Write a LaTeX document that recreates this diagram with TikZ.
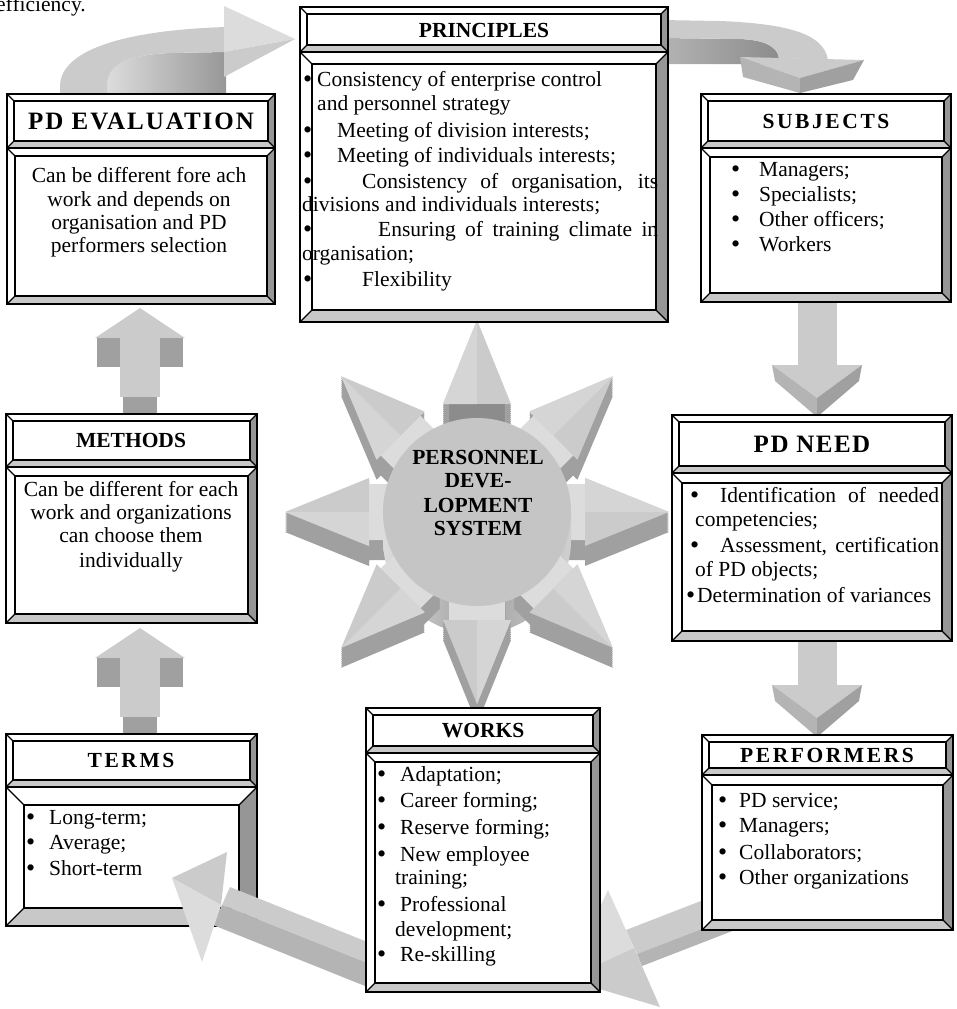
\documentclass[tikz,border=0pt]{standalone}
\usepackage{fontspec}
\setmainfont{Liberation Serif}
\newfontfamily\hdwide[LetterSpace=12]{Liberation Serif}
\newfontfamily\hdmid[LetterSpace=8]{Liberation Serif}
\newfontfamily\hdnarrow[LetterSpace=6]{Liberation Serif}
\newcommand\bodyfont{\fontsize{21.5}{24}\selectfont}
\newcommand\bulletbox[1]{\makebox[#1][l]{\raisebox{-1.2pt}{\fontsize{26}{26}\selectfont •}}}

\definecolor{shadeA}{RGB}{203,203,203}
\definecolor{shadeB}{RGB}{180,180,180}
\definecolor{shadeC}{RGB}{160,160,160}
\definecolor{shadeD}{RGB}{140,140,140}
\definecolor{shadeE}{RGB}{220,220,220}
\definecolor{bandR}{RGB}{150,150,150}
\definecolor{bandB}{RGB}{200,200,200}

% one bevelled frame: x1, y1, x2, y2, band width
\newcommand\bevelpart[5]{%
  \fill[white] (#1,#2) rectangle (#3,#4);
  \fill[bandR] (#3,#2) -- (#3,#4) -- ({#3-#5},{#4-#5}) -- ({#3-#5},{#2+#5}) -- cycle;
  \fill[bandB] (#1,#4) -- (#3,#4) -- ({#3-#5},{#4-#5}) -- ({#1+#5},{#4-#5}) -- cycle;
  \draw[frame] ({#1+#5},{#2+#5}) rectangle ({#3-#5},{#4-#5});
  \draw[frame] (#1,#2) -- ({#1+#5},{#2+#5}) (#3,#2) -- ({#3-#5},{#2+#5})
               (#1,#4) -- ({#1+#5},{#4-#5}) (#3,#4) -- ({#3-#5},{#4-#5});
  \draw[frame] (#1,#2) rectangle (#3,#4);}

% a titled panel: name, x1, y1, x2, y2, title bottom, body band
\newcommand\panel[7]{%
  \bevelpart{#2}{#3}{#4}{#6}{7}
  \bevelpart{#2}{#6}{#4}{#5}{#7}
  \coordinate (#1-nw) at (#2,#3);
  \coordinate (#1-se) at (#4,#5);}

% outline of one ray of the star, in its own frame
\newcommand\raypath{(80,-28) -- (108,-28) -- (108,-34) -- (192,0) -- (108,34) -- (108,28) -- (80,28) -- cycle}

% one ray of the star: angle, colour of its stub
\newcommand\starray[2]{%
  \foreach \k in {20,18,...,2}{
    \fill[shadeC,shift={(477,512+\k)},rotate=#1] \raypath;}
  \begin{scope}[shift={(477,512)},rotate=#1]
    \fill[shadeA] \raypath;
    \fill[#2] (80,-28) rectangle (108,28);
    \fill[shadeE!60!shadeA] (108,-34) -- (192,0) -- (108,0) -- cycle;
  \end{scope}}

\begin{document}
\begin{tikzpicture}[x=1pt,y=-1pt,
  frame/.style={draw=black,line width=1.3pt},
  txt/.style={inner sep=0pt,font=\bodyfont},
  line/.style={txt,anchor=mid west},
  cline/.style={txt,anchor=mid},
  hd/.style={inner sep=0pt,anchor=center,font=\bodyfont\bfseries},
  hdw/.style={hd,font=\hdwide\bfseries\bodyfont},
]
\useasboundingbox (0,0) rectangle (956,1009);

\node[txt,anchor=base west] (eff) at (-4,11) {efficiency.};

% ---- curved arrow: evaluation -> principles
\shade[left color=shadeE,right color=shadeD!90]
  (107,100) -- (107,85) .. controls (108,65) and (125,55) .. (170,53) -- (226,52) -- (226,100) -- cycle;
\fill[shadeA]
  (60,100) -- (60,85) .. controls (62,48) and (130,30) .. (226,27) -- (226,52) -- (170,53)
  .. controls (125,55) and (108,65) .. (107,85) -- (107,100) -- cycle;
\coordinate (aTip) at (295,39);
\fill[shadeE] (224,6) -- (aTip) -- (224,52) -- cycle;
\fill[shadeA] (224,52) -- (aTip) -- (224,77) -- cycle;

% ---- curved arrow: principles -> subjects
\shade[left color=shadeB,right color=shadeD]
  (660,38) -- (740,39) .. controls (764,40) and (777,46) .. (779,58) -- (779,64) -- (660,64) -- cycle;
\fill[shadeA]
  (660,20) -- (720,21) .. controls (795,24) and (824,36) .. (828,60) -- (779,58)
  .. controls (777,46) and (764,40) .. (740,39) -- (660,38) -- cycle;
\coordinate (bTip) at (800,93);
\fill[shadeA] (740,57) -- (864,60) -- (800,78) -- cycle;
\fill[shadeB] (740,57) -- (743,77) -- (bTip) -- (800,78) -- cycle;
\fill[shadeC] (800,78) -- (864,60) -- (853,80) -- (bTip) -- cycle;

% ---- straight down arrows in the right column
\foreach \ys/\ye in {302/365,641/685}{
  \fill[shadeA] (798,\ys) rectangle (837,\ye);
  \fill[shadeA] (772,\ye) -- (862,\ye) -- (817,\ye+33) -- cycle;
  \fill[shadeB] (772,\ye) -- (775,\ye+16) -- (817,\ye+52) -- (817,\ye+33) -- cycle;
  \fill[shadeC] (817,\ye+33) -- (862,\ye) -- (859,\ye+16) -- (817,\ye+52) -- cycle;
}

% ---- straight up arrows in the left column
\foreach \ty in {308,628}{
  \fill[shadeA] (95,\ty+30) -- (140,\ty) -- (185,\ty+30) -- cycle;
  \fill[shadeC] (97,\ty+30) rectangle (120,\ty+59);
  \fill[shadeC] (160,\ty+30) rectangle (183,\ty+59);
  \fill[shadeA] (120,\ty+30) rectangle (160,\ty+89);
  \fill[shadeC] (123,\ty+89) rectangle (157,\ty+112);
}

% ---- diagonal arrow: performers -> works
\fill[shadeA] (737,887) -- (626,930) -- (637,954) -- (748,911) -- cycle;
\fill[shadeB] (748,911) -- (637,954) -- (642,966) -- (753,923) -- cycle;
\coordinate (gTip) at (566,979);
\fill[shadeE] (608,890) -- (gTip) -- (634,948) -- cycle;
\fill[shadeA] (634,948) -- (gTip) -- (660,1007) -- cycle;

% ---- star with cylinder in the centre
\starray{90}{shadeD}
\starray{45}{shadeE}
\starray{135}{shadeE}
\starray{0}{shadeE}
\starray{180}{shadeE}
\shade[left color=shadeE,right color=shadeE!70!shadeB,middle color=shadeC]
  (383,512) rectangle (571,540);
\shade[left color=shadeE,right color=shadeE!70!shadeB,middle color=shadeC]
  (477,540) circle[radius=94pt];
\starray{315}{shadeE}
\starray{270}{shadeE}
\starray{225}{shadeE}
\fill[shadeA!97!black] (477,512) circle[radius=94pt];
\node[hd] (pds1) at (478,457) {PERSONNEL};
\node[hd] (pds2) at (478,481) {DEVE-};
\node[hd] (pds3) at (478,505) {LOPMENT};
\node[hd] (pds4) at (478,528) {SYSTEM};

% ---- panels
\panel{eval}{7}{94}{275}{304}{148}{8}
\panel{prin}{300}{7}{668}{322}{52}{12}
\panel{subj}{701}{94}{951}{302}{148}{9}
\panel{need}{672}{415}{952}{641}{473}{10}
\panel{meth}{6}{414}{257}{623}{467}{9}
\panel{perf}{702}{735}{953}{930}{775}{10}
\panel{term}{6}{734}{257}{926}{787}{18}

% ---- diagonal arrow: works -> terms (in front of the terms panel)
\fill[shadeA] (230,887) -- (380,947) -- (380,968) -- (222,905) -- cycle;
\fill[shadeB] (222,905) -- (380,968) -- (380,992) -- (213,925) -- cycle;
\coordinate (hTip) at (172,878);
\fill[shadeA] (hTip) -- (227,852) -- (221,905) -- cycle;
\fill[shadeE] (hTip) -- (221,905) -- (202,962) -- cycle;

\panel{work}{366}{708}{600}{992}{753}{9}

% ---- texts
\node[hd,font=\hdmid\bfseries\fontsize{25}{28}\selectfont] (evalH) at (141,121) {PD EVALUATION};
\node[cline] (eval1) at (139,180) {Can be different fore ach};
\node[cline] (eval2) at (139,204) {work and depends on};
\node[cline] (eval3) at (139,227) {organisation and PD};
\node[cline] (eval4) at (139,250) {performers selection};

\node[hd] (prinH) at (484,30) {PRINCIPLES};
\node[line] (prin1) at (303,84) {\bulletbox{14pt}Consistency of enterprise control};
\node[line] (prin2) at (317,108) {and personnel strategy};
\node[line] (prin3) at (303,135) {\bulletbox{34pt}Meeting of division interests;};
\node[line] (prin4) at (303,160) {\bulletbox{34pt}Meeting of individuals interests;};
\node[line] (prin5) at (303,186) {\bulletbox{59pt}\makebox[296pt][s]{Consistency of organisation, its}};
\node[line] (prin6) at (302,209) {divisions and individuals interests;};
\node[line] (prin7) at (303,234) {\bulletbox{75pt}\makebox[280pt][s]{Ensuring of training climate in}};
\node[line] (prin8) at (302,258) {organisation;};
\node[line] (prin9) at (303,284) {\bulletbox{59pt}Flexibility};

\node[hdw] (subjH) at (826,121) {SUBJECTS};
\node[line] (subj1) at (731,174) {\bulletbox{28pt}Managers;};
\node[line] (subj2) at (731,199) {\bulletbox{28pt}Specialists;};
\node[line] (subj3) at (731,224) {\bulletbox{28pt}Other officers;};
\node[line] (subj4) at (731,249) {\bulletbox{28pt}Workers};

\node[hd,font=\hdnarrow\bfseries\fontsize{25}{28}\selectfont] (needH) at (812,444) {PD NEED};
\node[line] (need1) at (690,500) {\bulletbox{30pt}\makebox[219pt][s]{Identification of needed}};
\node[line] (need2) at (695,524) {competencies;};
\node[line] (need3) at (690,550) {\bulletbox{30pt}\makebox[219pt][s]{Assessment, certification}};
\node[line] (need4) at (695,574) {of PD objects;};
\node[line] (need5) at (686,600) {\bulletbox{11pt}Determination of variances};

\node[hd] (methH) at (131,440) {METHODS};
\node[cline] (meth1) at (131,494) {Can be different for each};
\node[cline] (meth2) at (131,517) {work and organizations};
\node[cline] (meth3) at (131,540) {can choose them};
\node[cline] (meth4) at (131,565) {individually};

\node[hdw] (termH) at (131,760) {TERMS};
\node[line] (term1) at (26,822) {\bulletbox{23pt}Long-term;};
\node[line] (term2) at (26,847) {\bulletbox{23pt}Average;};
\node[line] (term3) at (26,873) {\bulletbox{23pt}Short-term};

\node[hd] (workH) at (483,731) {WORKS};
\node[line] (work1) at (377,779) {\bulletbox{23pt}Adaptation;};
\node[line] (work2) at (377,805) {\bulletbox{23pt}Career forming;};
\node[line] (work3) at (377,832) {\bulletbox{23pt}Reserve forming;};
\node[line] (work4) at (377,859) {\bulletbox{23pt}New employee};
\node[line] (work5) at (395,882) {training;};
\node[line] (work6) at (377,909) {\bulletbox{23pt}Professional};
\node[line] (work7) at (395,934) {development;};
\node[line] (work8) at (377,959) {\bulletbox{23pt}Re-skilling};

\node[hdw] (perfH) at (827,755) {PERFORMERS};
\node[line] (perf1) at (718,805) {\bulletbox{21pt}PD service;};
\node[line] (perf2) at (718,830) {\bulletbox{21pt}Managers;};
\node[line] (perf3) at (718,857) {\bulletbox{21pt}Collaborators;};
\node[line] (perf4) at (718,882) {\bulletbox{21pt}Other organizations};
\end{tikzpicture}
\end{document}
